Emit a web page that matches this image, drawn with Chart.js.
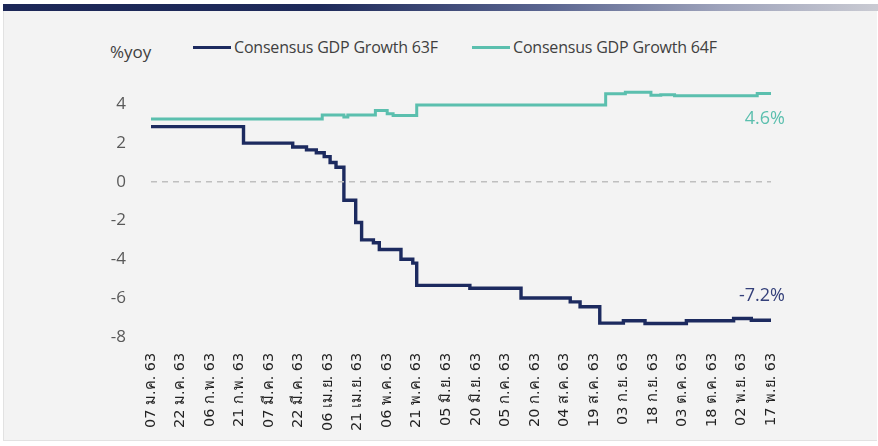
<!DOCTYPE html>
<html>
<head>
<meta charset="utf-8">
<script src="https://cdn.jsdelivr.net/npm/chart.js@4.4.1/dist/chart.umd.min.js"></script>
<style>
  html, body { margin: 0; padding: 0; background: #ffffff; }
  body { width: 878px; height: 446px; position: relative; overflow: hidden; font-family: "Open Sans", sans-serif; }
  .frame { position: absolute; left: 3px; top: 4px; width: 873px; height: 436px; background: #f3f3f3; border-left: 1px solid #e2e2e2; border-bottom: 1px solid #e2e2e2; }
  .bar { position: absolute; left: 3px; top: 4px; width: 875px; height: 7px;
    background: linear-gradient(to right, #1c2757 0%, #1e2a5a 36%, #5a6590 62%, #9ea3bb 82%, #cacbd3 100%); }
  .unit { position: absolute; left: 110px; top: 40px; font-size: 17px; color: #404040; }
  .legend { position: absolute; top: 36px; font-size: 16px; letter-spacing: -0.2px; color: #404040; white-space: nowrap; }
  .legend i { display: inline-block; width: 38px; height: 3px; vertical-align: middle; margin-right: 3px; position: relative; top: -1px; }
  #wrap { position: absolute; left: 0; top: 0; width: 878px; height: 446px; }
</style>
</head>
<body>
<div class="frame"></div>
<div class="bar"></div>
<div class="unit">%yoy</div>
<div class="legend" style="left:193px"><i style="background:#1c2a5f"></i>Consensus GDP Growth 63F</div>
<div class="legend" style="left:472px"><i style="background:#5bbfae"></i>Consensus GDP Growth 64F</div>
<div id="wrap"><canvas id="chartGdp"></canvas></div>
<script>
// tick labels, one every 15 days starting 07 ม.ค. 63
const tickLabels = [
  "07 ม.ค. 63", "22 ม.ค. 63", "06 ก.พ. 63", "21 ก.พ. 63", "07 มี.ค. 63", "22 มี.ค. 63",
  "06 เม.ย. 63", "21 เม.ย. 63", "06 พ.ค. 63", "21 พ.ค. 63", "05 มิ.ย. 63", "20 มิ.ย. 63",
  "05 ก.ค. 63", "20 ก.ค. 63", "04 ส.ค. 63", "19 ส.ค. 63", "03 ก.ย. 63", "18 ก.ย. 63",
  "03 ต.ค. 63", "18 ต.ค. 63", "02 พ.ย. 63", "17 พ.ย. 63",
];

// days since 07 ม.ค. 63 where the consensus changes, and the new value
const days63 = [0, 47, 72, 79, 84, 88, 91, 94, 98, 104, 107, 113, 116, 127, 133, 135, 162, 188, 213, 218, 228, 240, 251, 272, 296, 305, 315];
const gdp63 = [2.85, 2.0, 1.8, 1.65, 1.5, 1.3, 1.0, 0.75, -0.95, -2.1, -3.0, -3.15, -3.5, -4.0, -4.2, -5.35, -5.5, -6.0, -6.2, -6.45, -7.3, -7.18, -7.32, -7.18, -7.06, -7.15, -7.15];

const days64 = [0, 87, 98, 100, 114, 120, 123, 135, 231, 241, 254, 259, 266, 308, 315];
const gdp64 = [3.25, 3.45, 3.35, 3.45, 3.68, 3.52, 3.43, 3.97, 4.55, 4.63, 4.47, 4.5, 4.45, 4.56, 4.56];

const endLabel63 = "-7.2%";
const endLabel64 = "4.6%";

const navy = "#1c2a5f";
const teal = "#5bbfae";

function toPoints(days, vals) {
  return days.map((d, i) => ({ x: d, y: vals[i] }));
}

const endLabels = {
  id: "endLabels",
  afterDatasetsDraw(chart) {
    const { ctx, scales } = chart;
    const xEnd = scales.x.getPixelForValue(315) + 14;
    ctx.save();
    ctx.font = "18px 'Open Sans', sans-serif";
    ctx.textAlign = "right";
    ctx.textBaseline = "middle";
    ctx.fillStyle = teal;
    ctx.fillText(endLabel64, xEnd, scales.y.getPixelForValue(gdp64[gdp64.length - 1]) + 25);
    ctx.fillStyle = "#34407a";
    ctx.fillText(endLabel63, xEnd, scales.y.getPixelForValue(gdp63[gdp63.length - 1]) - 24);
    ctx.restore();
  },
};

new Chart(document.getElementById("chartGdp"), {
  type: "line",
  data: {
    datasets: [
      {
        label: "zero",
        data: [{ x: 0, y: 0 }, { x: 315, y: 0 }],
        borderColor: "#bfbfbf",
        borderWidth: 1.5,
        borderDash: [6, 5],
        pointRadius: 0,
      },
      {
        label: "Consensus GDP Growth 64F",
        data: toPoints(days64, gdp64),
        borderColor: teal,
        borderWidth: 3,
        stepped: true,
        pointRadius: 0,
      },
      {
        label: "Consensus GDP Growth 63F",
        data: toPoints(days63, gdp63),
        borderColor: navy,
        borderWidth: 3.4,
        stepped: true,
        pointRadius: 0,
      },
    ],
  },
  options: {
    responsive: true,
    maintainAspectRatio: false,
    animation: false,
    layout: { padding: { top: 85, right: 107, bottom: 0, left: 0 } },
    plugins: {
      legend: { display: false },
      tooltip: { enabled: false },
    },
    scales: {
      x: {
        type: "linear",
        min: 0,
        max: 315,
        grid: { display: false },
        border: { display: false },
        afterFit: (scale) => { scale.height = 109.3; },
        ticks: {
          stepSize: 15,
          autoSkip: false,
          maxRotation: 90,
          minRotation: 90,
          padding: 8,
          color: "#222222",
          font: { size: 14.5, family: "'DejaVu Sans', sans-serif" },
          callback: (v) => tickLabels[Math.round(v / 15)],
        },
      },
      y: {
        min: -8,
        max: 5,
        grid: { display: false },
        border: { display: false },
        afterFit: (scale) => { scale.width = 151; },
        ticks: {
          stepSize: 2,
          padding: 17,
          color: "#595959",
          font: { size: 17, family: "'Open Sans', sans-serif" },
          callback: (v) => (v > 4 ? "" : v),
        },
      },
    },
  },
  plugins: [endLabels],
});
</script>
</body>
</html>
